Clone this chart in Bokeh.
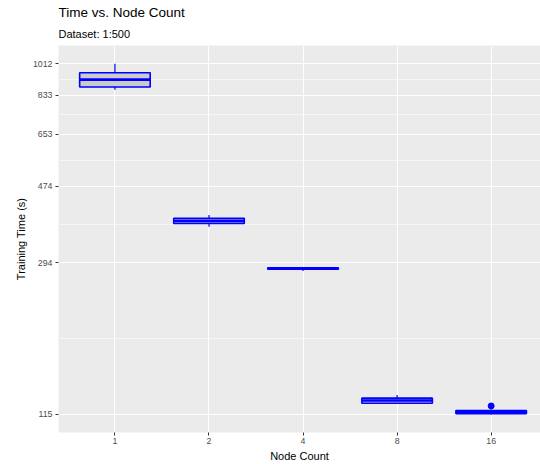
from bokeh.plotting import figure
from bokeh.models import Range1d, FixedTicker, Title
from bokeh.embed import file_html
from bokeh.resources import INLINE

# ---- data ----
node_counts = ["1", "2", "4", "8", "16"]
lower_whisker = [861, 368, 280, 122.7, 115]
q1 = [876, 376, 283, 123.3, 115.6]
median = [917, 382, 284, 125.4, 116.7]
q3 = [957, 388, 285.5, 127.2, 117.8]
upper_whisker = [1012, 396, 287, 129.8, 118.6]
outlier_group = [4]
outlier_value = [121.2]

y_tick_values = [115, 294.4, 473.8, 653.2, 832.6, 1012]
y_tick_labels = ["115", "294", "474", "653", "833", "1012"]

FONT = "Liberation Sans"
xpos = list(range(len(node_counts)))
xo = [xpos[g] for g in outlier_group]

p = figure(width=540, height=464, output_backend="svg", toolbar_location=None,
           y_axis_type="log",
           x_range=Range1d(-0.6, 4.5245), y_range=Range1d(102.8, 1133),
           min_border_left=58, min_border_right=0, min_border_top=45, min_border_bottom=31)

p.background_fill_color = "#EBEBEB"
p.border_fill_color = "white"
p.outline_line_color = None

# grid
minor_vals = [(y_tick_values[i] * y_tick_values[i + 1]) ** 0.5 for i in range(len(y_tick_values) - 1)]
p.yaxis.ticker = FixedTicker(ticks=y_tick_values, minor_ticks=minor_vals)
p.yaxis.major_label_overrides = {v: l for v, l in zip(y_tick_values, y_tick_labels)}
p.xaxis.ticker = FixedTicker(ticks=xpos)
p.xaxis.major_label_overrides = {i: n for i, n in zip(xpos, node_counts)}

p.xgrid.grid_line_color = "white"
p.xgrid.grid_line_width = 1.1
p.ygrid.grid_line_color = "white"
p.ygrid.grid_line_width = 1.1
p.ygrid.minor_grid_line_color = "white"
p.ygrid.minor_grid_line_width = 0.55

for ax in (p.xaxis, p.yaxis):
    ax.axis_line_color = None
    ax.major_tick_line_color = "#333333"
    ax.major_tick_line_width = 1
    ax.major_tick_out = 3
    ax.major_tick_in = 0
    ax.minor_tick_line_color = None
    ax.major_label_text_font = FONT
    ax.major_label_text_font_size = "8.8px"
    ax.major_label_text_color = "#4D4D4D"
    ax.axis_label_text_font = FONT
    ax.axis_label_text_font_size = "11px"
    ax.axis_label_text_font_style = "normal"
    ax.axis_label_text_color = "black"
    ax.major_label_standoff = 2

p.xaxis.axis_label = "Node Count"
p.yaxis.axis_label = "Training Time (s)"
p.xaxis.axis_label_standoff = 3
p.yaxis.axis_label_standoff = 3

# boxes
p.segment(x0=xpos, y0=lower_whisker, x1=xpos, y1=q1, line_color="blue", line_width=1.2)
p.segment(x0=xpos, y0=q3, x1=xpos, y1=upper_whisker, line_color="blue", line_width=1.2)
p.vbar(x=xpos, width=0.75, bottom=q1, top=q3, fill_color="#CBCBCB",
       line_color="blue", line_width=1.6)
p.segment(x0=[x - 0.375 for x in xpos], y0=median, x1=[x + 0.375 for x in xpos], y1=median,
          line_color="blue", line_width=2.6)
p.scatter(x=xo, y=outlier_value, size=6, color="blue")

p.add_layout(Title(text="Dataset: 1:500", text_font=FONT, text_font_size="11px",
                   text_font_style="normal", text_color="black", standoff=12), "above")
p.add_layout(Title(text="Time vs. Node Count", text_font=FONT, text_font_size="13.5px",
                   text_font_style="normal", text_color="black", standoff=0), "above")

open("out.html", "w").write(file_html(p, INLINE))
